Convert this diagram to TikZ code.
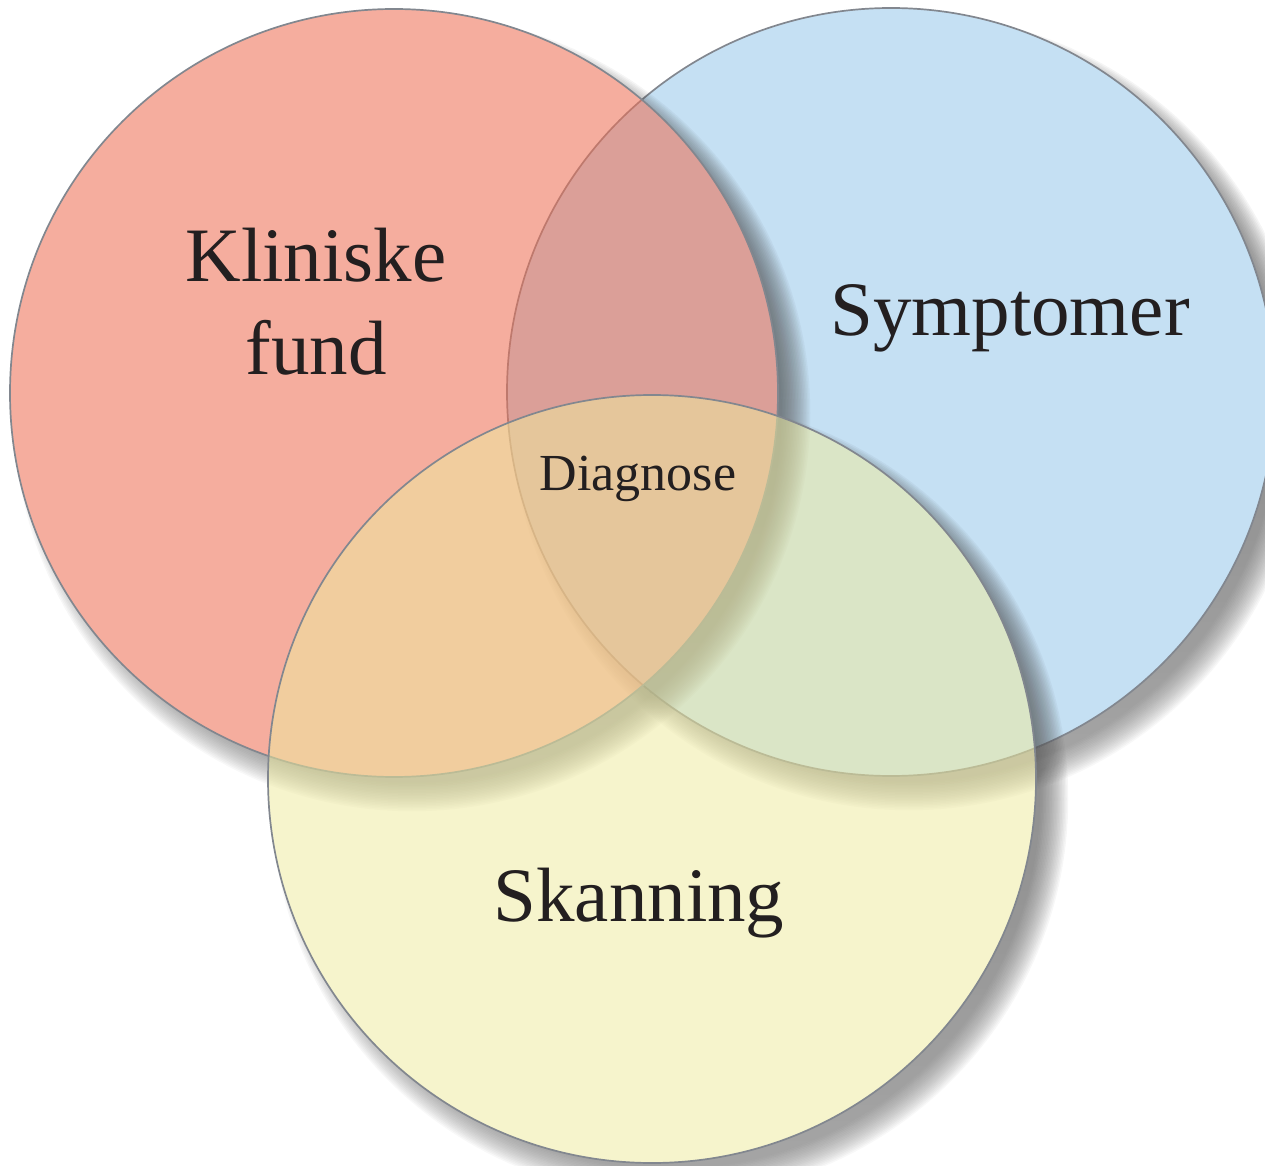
\documentclass[tikz,border=0pt]{standalone}
\usepackage{fontspec}
\setmainfont{Liberation Serif}
\usetikzlibrary{calc}
\definecolor{redfill}{RGB}{237,111,84}
\definecolor{bluefill}{RGB}{197,224,243}
\definecolor{yellowfill}{RGB}{238,234,158}
\definecolor{rim}{RGB}{130,135,143}
\definecolor{shade}{RGB}{30,30,42}
\definecolor{ink}{RGB}{35,31,32}
\tikzset{
  rimline/.style={draw=rim,line width=0.85pt},
  biglabel/.style={text=ink,font=\fontsize{38.5}{46}\selectfont,anchor=base,inner sep=0pt},
  smalllabel/.style={text=ink,font=\fontsize{26}{31}\selectfont,anchor=base,inner sep=0pt}
}
\begin{document}
\begin{tikzpicture}[x=0.5pt,y=-0.5pt,line join=round,line cap=round]
\def\r{384} \def\dx{18} \def\dy{20} \def\w{15}
\useasboundingbox (0,0) rectangle (1265,1166);
\coordinate (B) at (891,392);
\coordinate (R) at (394,393);
\coordinate (Y) at (652,779);
\foreach \c/\col/\op in {B/bluefill/1,R/redfill/0.57,Y/yellowfill/0.53}{
  \begin{scope}
    \clip (-200,-200) -- (1500,-200) -- (1500,1400) -- (-200,1400) -- cycle
          ($(\c)+(\r,0)$) arc[start angle=0,end angle=-360,radius=\r];
    \foreach \k in {1,...,20}
      \fill[shade,fill opacity=0.029] ($(\c)+(\dx,\dy)$) circle[radius={\r-\w+\w*(\k-0.5)/10}];
  \end{scope}
  \filldraw[fill=\col,fill opacity=\op,rimline] (\c) circle[radius=\r];
}
\node[biglabel] (kliniske) at (316,282) {Kliniske};
\node[biglabel] (fund) at (316,375) {fund};
\node[biglabel] (symptomer) at (1010,336) {Symptomer};
\node[smalllabel] (diagnose) at (638,490) {Diagnose};
\node[biglabel] (skanning) at (639,921) {Skanning};
\end{tikzpicture}
\end{document}
